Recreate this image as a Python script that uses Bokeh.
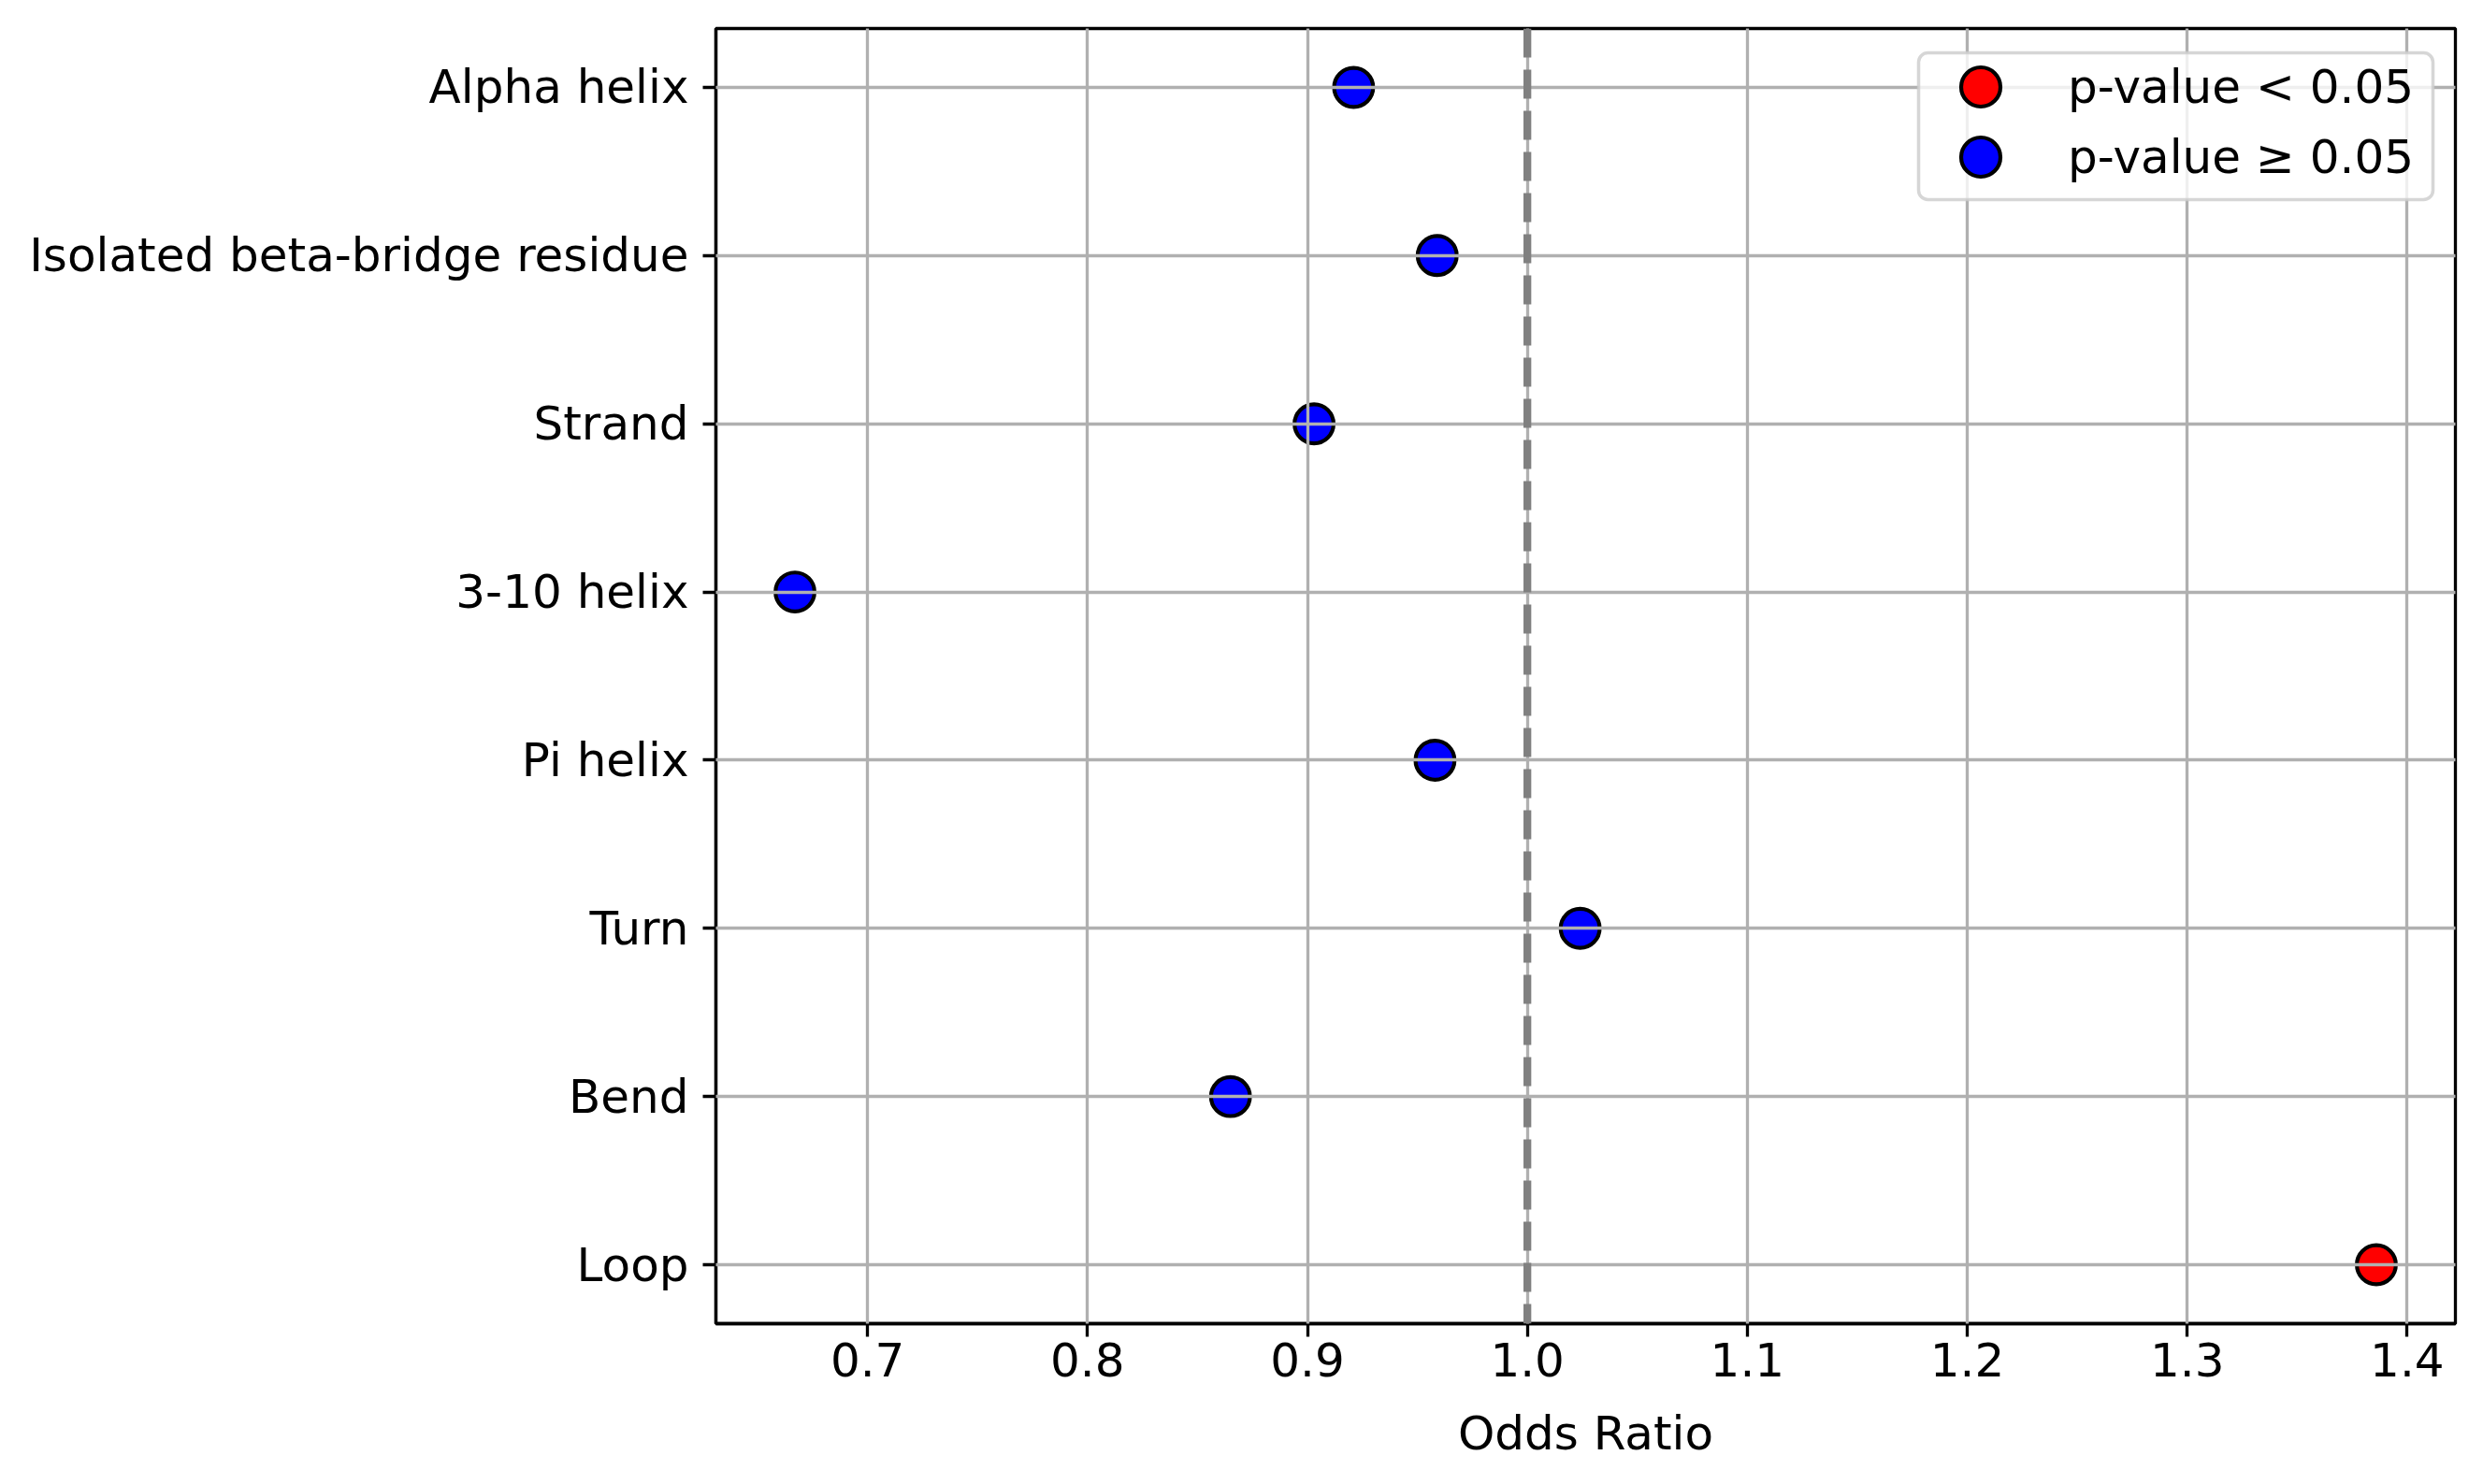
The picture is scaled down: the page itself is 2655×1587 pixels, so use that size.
from bokeh.plotting import figure
from bokeh.models import (ColumnDataSource, Range1d, FixedTicker, Span, Legend,
                          LegendItem, PrintfTickFormatter, BoxAnnotation)
from bokeh.embed import file_html
from bokeh.resources import INLINE

# ---- data ----
categories = ["Alpha helix", "Isolated beta-bridge residue", "Strand", "3-10 helix",
              "Pi helix", "Turn", "Bend", "Loop"]
odds_ratio = [0.921, 0.959, 0.903, 0.667, 0.958, 1.024, 0.865, 1.386]
significant = [False, False, False, False, False, False, False, True]
x_ticks = [0.7, 0.8, 0.9, 1.0, 1.1, 1.2, 1.3, 1.4]
legend_labels = ["p-value < 0.05", "p-value \u2265 0.05"]
reference_line = 1.0
x_label = "Odds Ratio"

n = len(categories)
ypos = [n - 1 - i for i in range(n)]

sig = dict(x=[v for v, s in zip(odds_ratio, significant) if s],
           y=[y for y, s in zip(ypos, significant) if s])
ns = dict(x=[v for v, s in zip(odds_ratio, significant) if not s],
          y=[y for y, s in zip(ypos, significant) if not s])

lo, hi = min(odds_ratio), max(odds_ratio)
pad = 0.05 * (hi - lo)
ypad = 0.05 * (n - 1)

FONT = "DejaVu Sans"
FS = "50px"

p = figure(frame_width=1860, frame_height=1385,
           min_border_left=765, min_border_right=22, min_border_top=30, min_border_bottom=164,
           x_range=Range1d(lo - pad, hi + pad), y_range=Range1d(-ypad, n - 1 + ypad),
           output_backend="svg", toolbar_location=None,
           background_fill_color="white", border_fill_color="white")

p.outline_line_color = "black"
p.outline_line_width = 3.3

# grid drawn above markers (as in reference)
for g in (p.xgrid[0], p.ygrid[0]):
    g.grid_line_color = "#b0b0b0"
    g.grid_line_width = 3.3
    g.level = "guide"
p.xgrid[0].ticker = FixedTicker(ticks=x_ticks)
p.ygrid[0].ticker = FixedTicker(ticks=ypos)

r_sig = p.scatter("x", "y", source=ColumnDataSource(sig), size=41.7, marker="circle",
                  fill_color="red", line_color="black", line_width=4.2)
r_ns = p.scatter("x", "y", source=ColumnDataSource(ns), size=41.7, marker="circle",
                 fill_color="blue", line_color="black", line_width=4.2)

span = Span(location=reference_line, dimension="height", line_color="gray",
            line_width=8.3, line_dash="31 13")
p.add_layout(span)

xa = p.xaxis[0]
ya = p.yaxis[0]
xa.ticker = FixedTicker(ticks=x_ticks)
xa.formatter = PrintfTickFormatter(format="%.1f")
ya.ticker = FixedTicker(ticks=ypos)
ya.major_label_overrides = {y: c for y, c in zip(ypos, categories)}
for ax in (xa, ya):
    ax.axis_line_color = "black"
    ax.axis_line_width = 3.3
    ax.major_tick_line_color = "black"
    ax.major_tick_line_width = 3.3
    ax.major_tick_out = 14
    ax.major_tick_in = 0
    ax.minor_tick_line_color = None
    ax.major_label_text_font = FONT
    ax.major_label_text_font_size = FS
    ax.major_label_text_color = "black"
xa.major_label_standoff = 6
ya.major_label_standoff = 15
xa.axis_label = x_label
xa.axis_label_text_font = FONT
xa.axis_label_text_font_size = FS
xa.axis_label_text_font_style = "normal"
xa.axis_label_text_color = "black"
xa.axis_label_standoff = 29

# legend frame (screen units, relative to the plot frame)
frame_box = BoxAnnotation(left=1286, right=1836, top=1359, bottom=1202,
                          left_units="screen", right_units="screen",
                          top_units="screen", bottom_units="screen",
                          fill_color="white", fill_alpha=0.8,
                          line_color="#cccccc", line_alpha=0.8, line_width=3.5)
if "border_radius" in BoxAnnotation.properties():
    frame_box.border_radius = 10
p.add_layout(frame_box)

def make_legend(label, renderer, loc):
    return Legend(items=[LegendItem(label=label, renderers=[renderer])],
                  location=loc, margin=0, padding=0, spacing=0,
                  glyph_width=105, glyph_height=105, label_standoff=41,
                  label_text_font=FONT, label_text_font_size=FS, label_text_color="black",
                  border_line_color=None, background_fill_alpha=0.0)

p.add_layout(make_legend(legend_labels[0], r_sig, (1300, 1270)))
p.add_layout(make_legend(legend_labels[1], r_ns, (1300, 1195)))

open("out.html", "w").write(file_html(p, INLINE))
